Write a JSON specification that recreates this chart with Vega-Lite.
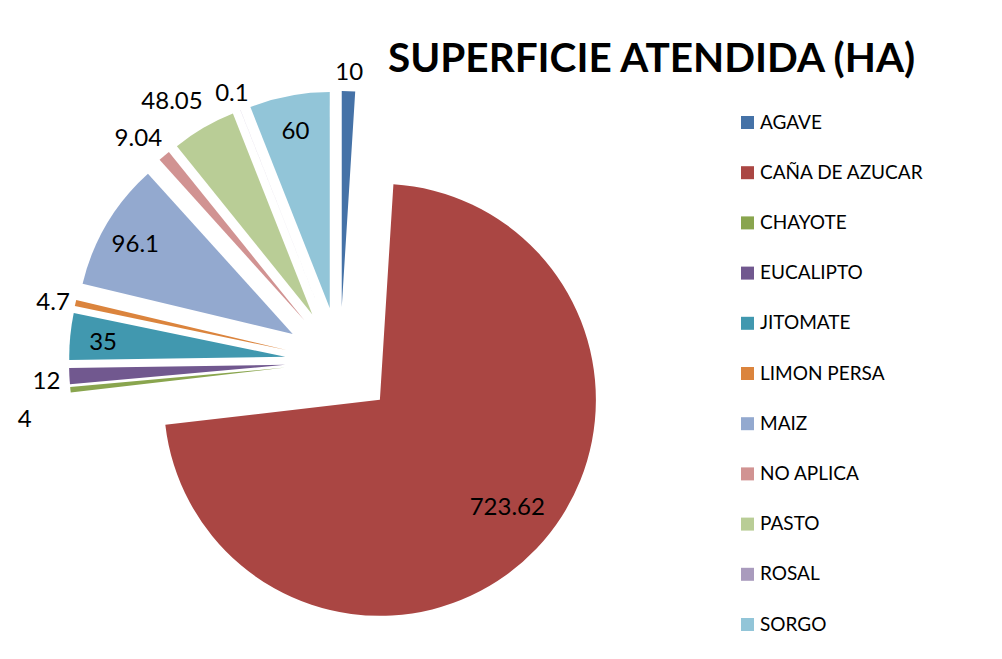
{
  "$schema": "https://vega.github.io/schema/vega-lite/v6.json",
  "autosize": {"type": "none"},
  "width": 680,
  "height": 544,
  "padding": {"left": 0, "top": 90, "right": 322, "bottom": 25},
  "background": "white",
  "title": {
    "text": "SUPERFICIE ATENDIDA (HA)",
    "font": "Lato",
    "fontWeight": "bold",
    "fontSize": 40.5,
    "color": "black",
    "anchor": "start",
    "frame": "group",
    "dx": 388,
    "offset": -32
  },
  "data": {
    "values": [
      {"cultivo": "AGAVE", "ha": 10},
      {"cultivo": "CAÑA DE AZUCAR", "ha": 723.62},
      {"cultivo": "CHAYOTE", "ha": 4},
      {"cultivo": "EUCALIPTO", "ha": 12},
      {"cultivo": "JITOMATE", "ha": 35},
      {"cultivo": "LIMON PERSA", "ha": 4.7},
      {"cultivo": "MAIZ", "ha": 96.1},
      {"cultivo": "NO APLICA", "ha": 9.04},
      {"cultivo": "PASTO", "ha": 48.05},
      {"cultivo": "ROSAL", "ha": 0.1},
      {"cultivo": "SORGO", "ha": 60}
    ]
  },
  "encoding": {
    "theta": {"field": "ha", "type": "quantitative", "stack": true},
    "order": {"field": "cultivo", "type": "nominal", "sort": "ascending"}
  },
  "layer": [
    {
      "mark": {
        "type": "arc",
        "outerRadius": 216,
        "strokeWidth": 0,
        "xOffset": {"expr": "55*sin((scale('theta', datum.ha_start)+scale('theta', datum.ha_end))/2)"},
        "yOffset": {"expr": "-55*cos((scale('theta', datum.ha_start)+scale('theta', datum.ha_end))/2)"}
      },
      "encoding": {
        "color": {
          "field": "cultivo",
          "type": "nominal",
          "scale": {
            "domain": ["AGAVE", "CAÑA DE AZUCAR", "CHAYOTE", "EUCALIPTO", "JITOMATE", "LIMON PERSA", "MAIZ", "NO APLICA", "PASTO", "ROSAL", "SORGO"],
            "range": ["#4572A7", "#AA4643", "#89A54E", "#71588F", "#4198AF", "#DB843D", "#93A9CF", "#D19392", "#B9CD96", "#A99BBD", "#92C5D8"]
          },
          "legend": {
            "orient": "none",
            "legendX": 738,
            "legendY": 23,
            "direction": "vertical",
            "title": null,
            "symbolType": "square",
            "symbolSize": 169,
            "symbolStrokeWidth": 0,
            "labelFont": "Lato",
            "labelFontSize": 19,
            "labelColor": "black",
            "labelOffset": 3,
            "labelLimit": 400,
            "rowPadding": 30.2,
            "padding": 0
          }
        }
      }
    },
    {
      "mark": {"type": "text", "radius": 238, "dy": 4, "font": "Lato", "fontSize": 24, "color": "black", "align": "center", "baseline": "middle"},
      "encoding": {
        "text": {"condition": {"test": "indexof(['SORGO','MAIZ','JITOMATE'], datum.cultivo) >= 0", "field": "ha", "type": "quantitative", "format": ""}, "value": ""}
      }
    },
    {
      "mark": {"type": "text", "radius": 221, "dx": 7, "dy": -6, "font": "Lato", "fontSize": 24, "color": "black", "align": "center", "baseline": "middle"},
      "encoding": {
        "text": {"condition": {"test": "datum.cultivo === 'CAÑA DE AZUCAR'", "field": "ha", "type": "quantitative", "format": ""}, "value": ""}
      }
    },
    {
      "mark": {"type": "text", "radius": 294, "dy": 5, "font": "Lato", "fontSize": 24, "color": "black", "align": "center", "baseline": "middle"},
      "encoding": {
        "text": {"condition": {"test": "indexof(['AGAVE','ROSAL','LIMON PERSA','EUCALIPTO'], datum.cultivo) >= 0", "field": "ha", "type": "quantitative", "format": ""}, "value": ""}
      }
    },
    {
      "mark": {"type": "text", "radius": 300, "dx": -7, "dy": 5, "font": "Lato", "fontSize": 24, "color": "black", "align": "center", "baseline": "middle"},
      "encoding": {
        "text": {"condition": {"test": "datum.cultivo === 'NO APLICA'", "field": "ha", "type": "quantitative", "format": ""}, "value": ""}
      }
    },
    {
      "mark": {"type": "text", "radius": 312, "dx": -11, "dy": 10, "font": "Lato", "fontSize": 24, "color": "black", "align": "center", "baseline": "middle"},
      "encoding": {
        "text": {"condition": {"test": "datum.cultivo === 'PASTO'", "field": "ha", "type": "quantitative", "format": ""}, "value": ""}
      }
    },
    {
      "mark": {"type": "text", "radius": 320, "dx": 3, "dy": 25, "font": "Lato", "fontSize": 24, "color": "black", "align": "center", "baseline": "middle"},
      "encoding": {
        "text": {"condition": {"test": "datum.cultivo === 'CHAYOTE'", "field": "ha", "type": "quantitative", "format": ""}, "value": ""}
      }
    }
  ],
  "config": {"view": {"stroke": null}}
}
